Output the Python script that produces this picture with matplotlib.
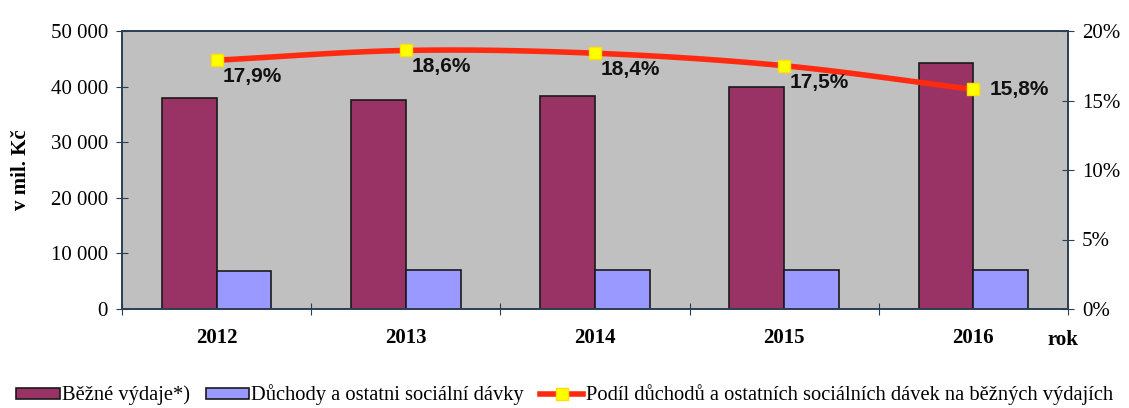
import numpy as np
import matplotlib
matplotlib.use("Agg")
import matplotlib.pyplot as plt
from matplotlib.patches import Patch
from matplotlib.lines import Line2D

years = ["2012", "2013", "2014", "2015", "2016"]
bezne_vydaje = [38000, 37600, 38300, 39900, 44300]
duchody = [6800, 7000, 7100, 7100, 7100]
podil = [17.9, 18.6, 18.4, 17.5, 15.8]
podil_labels = ["17,9%", "18,6%", "18,4%", "17,5%", "15,8%"]
left_ticks = [0, 10000, 20000, 30000, 40000, 50000]
left_tick_labels = ["0", "10 000", "20 000", "30 000", "40 000", "50 000"]
right_ticks = [0, 5, 10, 15, 20]
right_tick_labels = ["0%", "5%", "10%", "15%", "20%"]

SERIF = "Liberation Serif"
SANS = "Liberation Sans"
axis_col = "#2a3f55"
FS = 15

fig = plt.figure(figsize=(11.29, 4.08), dpi=100)
ax = fig.add_axes([122/1129, 1-309/408, (1068-122)/1129, (309-31)/408])
ax.set_facecolor("#c0c0c0")

x = np.arange(len(years))
w = 0.29
ax.bar(x - w/2, bezne_vydaje, w, color="#993366", edgecolor="#1a1a1a", linewidth=1.2, zorder=2)
ax.bar(x + w/2, duchody, w, color="#9999ff", edgecolor="#1a1a1a", linewidth=1.2, zorder=2)
ax.set_xlim(-0.5, len(years) - 0.5)
ax.set_ylim(0, 50000)
ax.set_yticks(left_ticks)
ax.set_yticklabels(left_tick_labels, fontfamily=SERIF, fontsize=FS)
ax.set_xticks(np.arange(len(years) + 1) - 0.5)
ax.set_xticklabels([])
ax.set_xticks(x, minor=True)
ax.set_xticklabels(years, minor=True, fontfamily=SERIF, fontsize=FS, fontweight="bold")
ax.tick_params(axis="x", which="minor", length=0, pad=14)
ax.tick_params(axis="x", which="major", direction="inout", length=8, color=axis_col)
ax.tick_params(axis="y", direction="inout", length=8, color=axis_col, pad=6)
ax.set_ylabel("v mil. Kč", fontfamily=SERIF, fontsize=FS, fontweight="bold", labelpad=14)
for s in ax.spines.values():
    s.set_color(axis_col)
    s.set_linewidth(1.2)

ax2 = ax.twinx()
ax2.set_ylim(0, 20)
ax2.set_yticks(right_ticks)
ax2.set_yticklabels(right_tick_labels, fontfamily=SERIF, fontsize=FS)
ax2.tick_params(axis="y", direction="inout", length=8, color=axis_col, pad=6)
for s in ax2.spines.values():
    s.set_color(axis_col)
    s.set_linewidth(1.2)

# smoothed (Catmull-Rom) rendering of the line through the data points
px = np.array(x, dtype=float)
py = np.array(podil, dtype=float)
P = np.column_stack([px, py])
P_ext = np.vstack([2*P[0]-P[1], P, 2*P[-1]-P[-2]])
curve = []
for i in range(1, len(P_ext) - 2):
    p0, p1, p2, p3 = P_ext[i-1], P_ext[i], P_ext[i+1], P_ext[i+2]
    for t in np.linspace(0, 1, 30):
        c = 0.5 * ((2*p1) + (-p0 + p2)*t + (2*p0 - 5*p1 + 4*p2 - p3)*t**2 + (-p0 + 3*p1 - 3*p2 + p3)*t**3)
        curve.append(c)
curve = np.array(curve)
ax2.plot(curve[:, 0], curve[:, 1], color="#ff2a10", linewidth=4, zorder=3, solid_capstyle="round")
ax2.plot(px, py, linestyle="none", marker="s", markersize=9, markerfacecolor="#ffff00",
         markeredgecolor="#ffe000", zorder=4)

for i, (xi, yi, lab) in enumerate(zip(px, py, podil_labels)):
    if i == len(px) - 1:
        ax2.annotate(lab, (xi, yi), xytext=(12, 0), textcoords="offset points",
                     ha="left", va="center", fontfamily=SANS, fontsize=FS, fontweight="bold", color="#111111")
    else:
        ax2.annotate(lab, (xi, yi), xytext=(4, -5), textcoords="offset points",
                     ha="left", va="top", fontfamily=SANS, fontsize=FS, fontweight="bold", color="#111111")

fig.text(1063/1129, 1-340/408, "rok", fontfamily=SERIF, fontsize=FS, fontweight="bold",
         ha="center", va="center")

handles = [
    Patch(facecolor="#993366", edgecolor="#1a1a1a", linewidth=1.2, label="Běžné výdaje*)"),
    Patch(facecolor="#9999ff", edgecolor="#1a1a1a", linewidth=1.2, label="Důchody a ostatni sociální dávky"),
    Line2D([0], [0], color="#ff2a10", linewidth=4, marker="s", markersize=9,
           markerfacecolor="#ffff00", markeredgecolor="#ffe000",
           label="Podíl důchodů a ostatních sociálních dávek na běžných výdajích"),
]
fig.legend(handles=handles, loc="center", bbox_to_anchor=(0.5, 1-395/408), ncol=3, frameon=False,
           prop={"family": SERIF, "size": 14.8}, handlelength=2.1, handleheight=0.45,
           handletextpad=0.1, columnspacing=0.8, borderpad=0.2, borderaxespad=0)

fig.savefig("out.png", dpi=100)
